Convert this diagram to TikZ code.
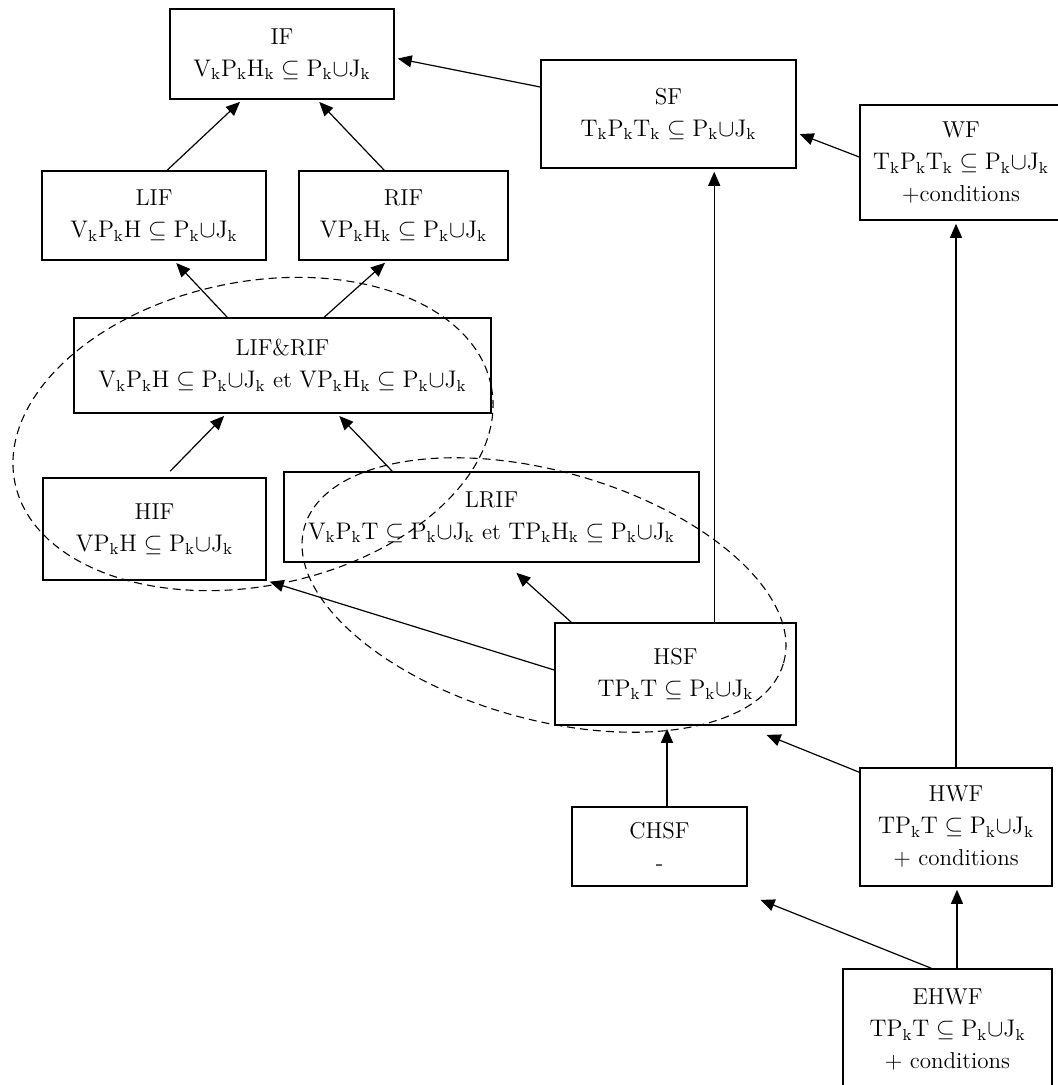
\documentclass[tikz,border=0pt]{standalone}
\usepackage{amsmath,amssymb}
\usetikzlibrary{arrows.meta,positioning,calc}
\newcommand{\PJ}{\mathrm{P_k{\cup}J_k}}

\begin{document}
\begin{tikzpicture}[x=0.5pt,y=-0.5pt,
  box/.style={draw,line width=0.8pt,align=center,inner sep=0pt,font=\fontsize{11.5}{16}\selectfont},
  arr/.style={-{Triangle[length=7pt,width=6pt]},line width=0.6pt,shorten >=1.5pt},
  grp/.style={dash pattern=on 4pt off 2.5pt,line width=0.55pt}]
\fill[white] (0,0) rectangle (1057,1085);
\useasboundingbox (0,0) rectangle (1057,1085);
% upper level
\node[box,minimum width=112pt,minimum height=45pt] (if) at (282,54) {IF\\$\mathrm{V_kP_kH_k}\subseteq\PJ$};
\node[box,minimum width=127.5pt,minimum height=54pt] (sf) at (668.5,114) {SF\\$\mathrm{T_kP_kT_k}\subseteq\PJ$};
\node[box,minimum width=101pt,minimum height=57.5pt] (wf) at (961,162.5) {WF\\$\mathrm{T_kP_kT_k}\subseteq\PJ$\\+conditions};
\node[box,minimum width=112pt,minimum height=44.5pt] (lif) at (154,215.5) {LIF\\$\mathrm{V_kP_kH}\subseteq\PJ$};
\node[box,minimum width=104.5pt,minimum height=44.5pt] (rif) at (403.5,215.5) {RIF\\$\mathrm{VP_kH_k}\subseteq\PJ$};
% middle level
\node[box,minimum width=208.5pt,minimum height=47.5pt] (lifrif) at (282.5,365.5) {LIF\&RIF\\$\mathrm{V_kP_kH}\subseteq\PJ$ et $\mathrm{VP_kH_k}\subseteq\PJ$};
\node[box,minimum width=111.5pt,minimum height=51pt] (hif) at (154.5,529) {HIF\\$\mathrm{VP_kH}\subseteq\PJ$};
\node[box,minimum width=207.5pt,minimum height=45pt] (lrif) at (491.5,517) {LRIF\\$\mathrm{V_kP_kT}\subseteq\PJ$ et $\mathrm{TP_kH_k}\subseteq\PJ$};
\node[box,minimum width=120.5pt,minimum height=51pt] (hsf) at (675.5,674) {HSF\\$\mathrm{TP_kT}\subseteq\PJ$};
% lower level
\node[box,minimum width=87.5pt,minimum height=39.5pt] (chsf) at (659.5,846.5) {CHSF\\-};
\node[box,minimum width=96pt,minimum height=59pt] (hwf) at (956,827) {HWF\\$\mathrm{TP_kT}\subseteq\PJ$\\+ conditions};
\node[box,minimum width=104.5pt,minimum height=60.5pt] (ehwf) at (947.5,1029.5) {EHWF\\$\mathrm{TP_kT}\subseteq\PJ$\\+ conditions};
% implications
\draw[arr] ([xshift=63pt]lif.north west) -- ([xshift=36.5pt]if.south west);
\draw[arr] ([xshift=43pt]rif.north west) -- ([xshift=74pt]if.south west);
\draw[arr] ([yshift=13.5pt]sf.west) -- ([yshift=-2pt]if.east);
\draw[arr] ([yshift=2.75pt]wf.west) -- ([yshift=-9.5pt]sf.east);
\draw[arr] ([xshift=77pt]lifrif.north west) -- ([xshift=66.5pt]lif.south west);
\draw[arr] ([xshift=125.5pt]lifrif.north west) -- ([xshift=44.5pt]rif.south west);
\draw[arr] ([xshift=64pt,yshift=3pt]hif.north west) -- ([xshift=76.5pt]lifrif.south west);
\draw[arr] ([xshift=54.5pt]lrif.north west) -- ([xshift=132pt]lifrif.south west);
\draw[arr] ([xshift=80pt]hsf.north west) -- ([xshift=80pt]hsf.north west |- sf.south);
\draw[arr] ([xshift=8.5pt]hsf.north west) -- ([xshift=115.5pt,yshift=-4pt]lrif.south west);
\draw[arr] ([yshift=2pt]hsf.west) -- (hif.south east);
\draw[arr] (hwf.north) -- (hwf.north |- wf.south);
\draw[arr] ([yshift=-2.5pt]hwf.north west) -- ([xshift=-16.5pt,yshift=-4pt]hsf.south east);
\draw[arr] ([xshift=3.75pt]chsf.north) -- ([xshift=3.75pt]chsf.north |- hsf.south);
\draw[arr] ([xshift=4.75pt]ehwf.north) -- ([xshift=4.75pt]ehwf.north |- hwf.south);
\draw[arr] ([xshift=44.5pt]ehwf.north west) -- ([xshift=5pt,yshift=-6pt]chsf.south east);
% dashed groups
\draw[grp,rotate around={11.5:(253,434)}] (253,434) ellipse [x radius=121.5pt,y radius=76pt];
\draw[grp,rotate around={-15.8:(544,595)}] (544,595) ellipse [x radius=124.5pt,y radius=62pt];
\end{tikzpicture}
\end{document}
